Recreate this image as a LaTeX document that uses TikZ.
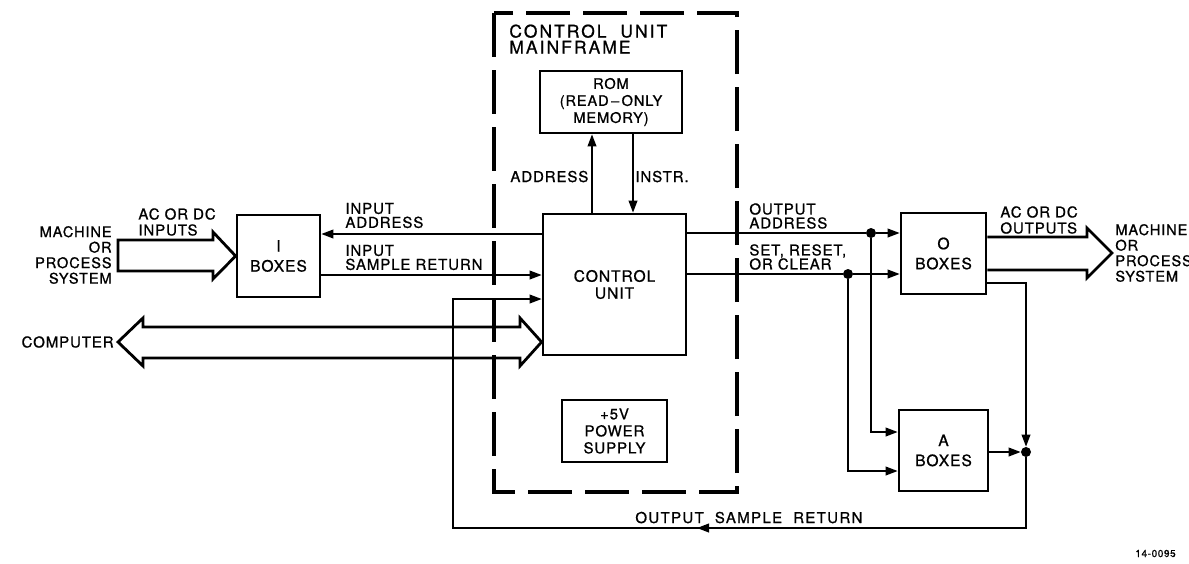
\documentclass[tikz,border=0pt]{standalone}
\usepackage{fontspec}
\setmainfont{TeX Gyre Heros}[LetterSpace=6,FakeBold=0.9]
\usetikzlibrary{arrows.meta}
\begin{document}
\begin{tikzpicture}[x=0.5pt,y=-0.5pt,
  box/.style={draw, line width=1.4pt, inner sep=0, align=center},
  conn/.style={line width=0.7pt},
  arr/.style={conn, -{Triangle[length=6pt,width=4.4pt]}},
  bigarr/.style={line width=1.4pt, line join=miter},
  dotn/.style={circle, fill, inner sep=0, minimum size=5pt},
  lbl/.style={inner sep=0, font=\fontsize{7.5}{7}\selectfont},
  boxfont/.style={font=\fontsize{7.8}{10}\selectfont},
  dashbox/.style={line width=2pt, dash pattern=on 22pt off 6.5pt},
]
\useasboundingbox (0,0) rectangle (1189,563);

% boxes
\node[box, boxfont, minimum width=41.5pt, minimum height=41pt] (ibox) at (278.5,256) {I\\BOXES};
\node[box, font=\fontsize{7.3}{8.5}\selectfont, minimum width=71pt, minimum height=31pt] (rom) at (611,102) {ROM\\(READ\,–\,ONLY\\MEMORY)};
\node[box, font=\fontsize{7.8}{8.5}\selectfont, minimum width=71.5pt, minimum height=70.5pt] (cu) at (614.5,284.5) {CONTROL\\UNIT};
\node[box, font=\fontsize{7.5}{8.5}\selectfont, minimum width=52.5pt, minimum height=31pt] (ps) at (614.5,431) {+5V\\POWER\\SUPPLY};
\node[box, boxfont, minimum width=42.5pt, minimum height=40.5pt] (obox) at (943.5,253.5) {O\\BOXES};
\node[box, boxfont, minimum width=44.5pt, minimum height=40.5pt] (abox) at (943.5,450.5) {A\\BOXES};

% dashed mainframe
\draw[dashbox] (494,13) rectangle (737,492);
\node[lbl, anchor=west, align=left, font=\fontsize{8.7}{8}\selectfont\addfontfeature{LetterSpace=12}] (mf) at (509,39) {CONTROL\ \ UNIT\\MAINFRAME};

% labels
\node[lbl, anchor=east, align=right, font=\fontsize{7.3}{7.75}\selectfont] (mach1) at (112,255) {MACHINE\\OR\\PROCESS\\SYSTEM};
\node[lbl, anchor=west, align=left, font=\fontsize{7.5}{8}\selectfont] (acin) at (138,222) {AC OR DC\\INPUTS};
\node[lbl, anchor=west, align=left] (inaddr) at (345,215.5) {INPUT\\ADDRESS};
\node[lbl, anchor=west, align=left] (insr) at (345,257.5) {INPUT\\SAMPLE RETURN};
\node[lbl, anchor=base west] (addrl) at (510,182) {ADDRESS};
\node[lbl, anchor=base west] (instrl) at (635,182) {INSTR.};
\node[lbl, anchor=west, align=left] (outaddr) at (749,216) {OUTPUT\\ADDRESS};
\node[lbl, anchor=west, align=left] (setl) at (749,257) {SET, RESET,\\OR CLEAR};
\node[lbl, anchor=west, align=left, font=\fontsize{7.5}{8}\selectfont] (acout) at (1000,220) {AC OR DC\\OUTPUTS};
\node[lbl, anchor=west, align=left, font=\fontsize{7.3}{7.75}\selectfont] (mach2) at (1115,253) {MACHINE\\OR\\PROCESS\\SYSTEM};
\node[lbl, anchor=east] (compl) at (114,342) {COMPUTER};
\node[lbl, anchor=base west, font=\fontsize{7.5}{7}\selectfont\addfontfeature{LetterSpace=9}] (osr) at (635,523) {OUTPUT\ \ SAMPLE\ \ RETURN};
\node[lbl, anchor=base west, font=\fontsize{5}{6}\selectfont] (num) at (1135,557) {14-0095};

% ROM connectors
\draw[arr] (cu.north -| 592,0) -- (rom.south -| 592,0);
\draw[arr] (rom.south -| 633,0) -- (cu.north -| 633,0);

% input side
\draw[arr] (cu.west |- 0,234) -- (ibox.east |- 0,234);
\draw[arr] (ibox.east |- 0,275) -- (cu.west |- 0,275);

% big input arrow
\draw[bigarr] (ibox.west) -- (213,232) -- (213,240) -- (118,240) -- (118,271) -- (213,271) -- (213,279) -- cycle;
% big output arrow
\draw[bigarr] (obox.east |- 0,237) -- (1087,237) -- (1087,228) -- (1112,253) -- (1087,278) -- (1087,270) -- (obox.east |- 0,270);
% computer double arrow
\coordinate (comp) at (118,342);
\draw[bigarr] (comp) -- (143,318) -- (143,327) -- (520,327) -- (520,318) -- (cu.west |- comp) -- (520,366) -- (520,358) -- (143,358) -- (143,366) -- cycle;

% output side
\node[dotn] (d1) at (871,233) {};
\node[dotn] (d2) at (848,274) {};
\draw[conn] (cu.east |- d1) -- (d1);
\draw[arr] (d1) -- (obox.west |- d1);
\draw[conn] (cu.east |- d2) -- (d2);
\draw[arr] (d2) -- (obox.west |- d2);
\draw[arr] (d1) |- (abox.west |- 0,432);
\draw[arr] (d2) |- (abox.west |- 0,471);

\node[dotn] (d3) at (1026,452) {};
\draw[arr] (obox.east |- 0,283) -| (d3);
\draw[arr] (abox.east |- d3) -- (d3);

% output sample return
\coordinate (fbl) at (453,528);
\draw[arr] (d3) |- (fbl) |- (cu.west |- 0,299);
\draw[arr] (712,528) -- (697,528);
\end{tikzpicture}
\end{document}
